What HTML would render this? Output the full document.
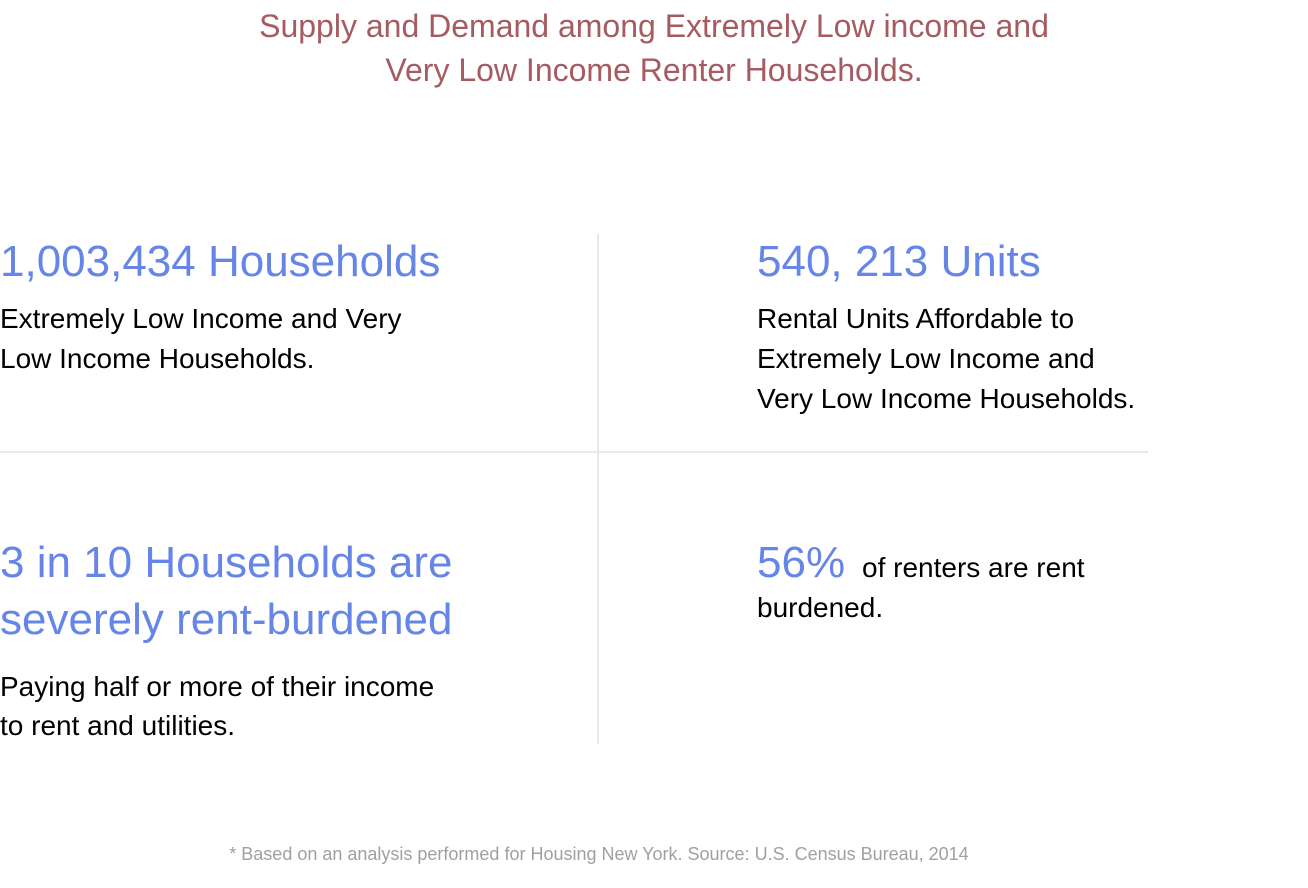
<!DOCTYPE html>
<html><head><meta charset="utf-8"><style>
body{margin:0;width:1308px;height:888px;background:#fff;position:relative;overflow:hidden;font-family:"Liberation Sans",sans-serif;}
div{position:absolute;white-space:nowrap;}
.t{color:#a65b60;font-size:32px;line-height:44px;left:0;width:1308px;text-align:center;}
.b{color:#6586e8;font-size:44px;line-height:44px;}
.k{color:#000;font-size:28px;line-height:40px;}
.vl{left:597px;top:234px;width:2px;height:510px;background:#e8e8e8;}
.hl{left:0;top:451px;width:1148px;height:2px;background:#e8e8e8;}
</style></head><body>
<div class="t" style="top:4px">Supply and Demand among Extremely Low income and</div>
<div class="t" style="top:48px">Very Low Income Renter Households.</div>
<div class="vl"></div>
<div class="hl"></div>

<div class="b" style="left:0;top:240px">1,003,434 Households</div>
<div class="k" style="left:0;top:299px">Extremely Low Income and Very<br>Low Income Households.</div>

<div class="b" style="left:757px;top:240px">540, 213 Units</div>
<div class="k" style="left:757px;top:299px">Rental Units Affordable to<br>Extremely Low Income and<br>Very Low Income Households.</div>

<div class="b" style="left:0;top:534px;line-height:57px">3 in 10 Households are<br>severely rent-burdened</div>
<div class="k" style="left:0;top:667px;line-height:39px">Paying half or more of their income<br>to rent and utilities.</div>

<div class="b" style="left:757px;top:541px">56%</div>
<div class="k" style="left:862px;top:548px">of renters are rent</div>
<div class="k" style="left:757px;top:588px">burdened.</div>

<div style="left:0;width:1198px;text-align:center;top:842px;font-size:18px;line-height:24px;color:#a0a0a0">* Based on an analysis performed for Housing New York. Source: U.S. Census Bureau, 2014</div>
</body></html>
